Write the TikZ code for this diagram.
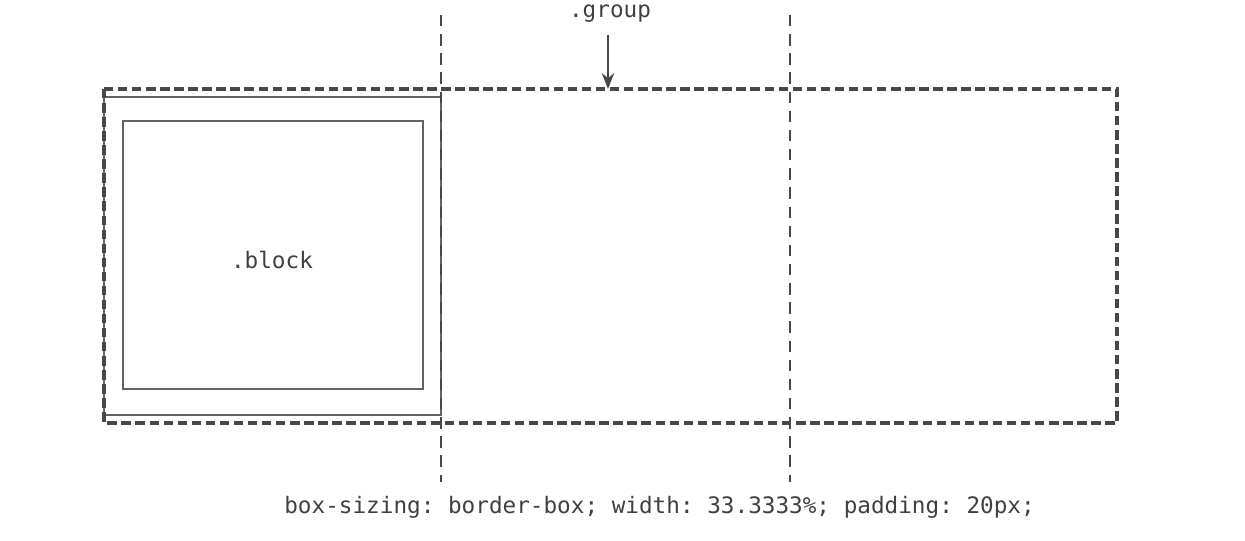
\documentclass[tikz,border=0pt]{standalone}
\usepackage{fontspec}
\setmonofont{DejaVu Sans Mono}
\usetikzlibrary{arrows.meta}
\definecolor{linegray}{HTML}{484848}
\definecolor{textgray}{HTML}{404040}
\tikzset{
 grp/.style={linegray,line width=1.8pt,dash pattern=on 5.4pt off 2.6pt},
 col/.style={linegray,line width=1.5pt,dash pattern=on 6.5pt off 4.4pt},
 blk/.style={linegray!85,line width=1.2pt},
 lbl/.style={textgray,font=\fontsize{12.9}{15}\selectfont\ttfamily,inner sep=0pt}
}
\begin{document}
\begin{tikzpicture}[x=0.02cm,y=-0.02cm]
 \useasboundingbox (0,0) rectangle (1245,541);
 \draw[blk](104,97) rectangle (441,415);
 \draw[blk](123,121) rectangle (423,389);
 \draw[grp](104,89) rectangle (1117,423);
 \draw[col](441,15) -- (441,482);
 \draw[col](790,15) -- (790,482);
 \node[lbl,anchor=base] (group) at (610,17) {.group};
 \node[lbl,anchor=base] (block) at (272,268) {.block};
 \node[lbl,anchor=base west] (decl) at (284,513) {box-sizing: border-box; width: 33.3333\%; padding: 20px;};
 \coordinate (grouptop) at (608,89);
 \draw[-{Stealth[length=9pt,width=7pt]},linegray,line width=1.7pt,shorten <=7pt](group.south -| grouptop) -- (grouptop);
\end{tikzpicture}
\end{document}
